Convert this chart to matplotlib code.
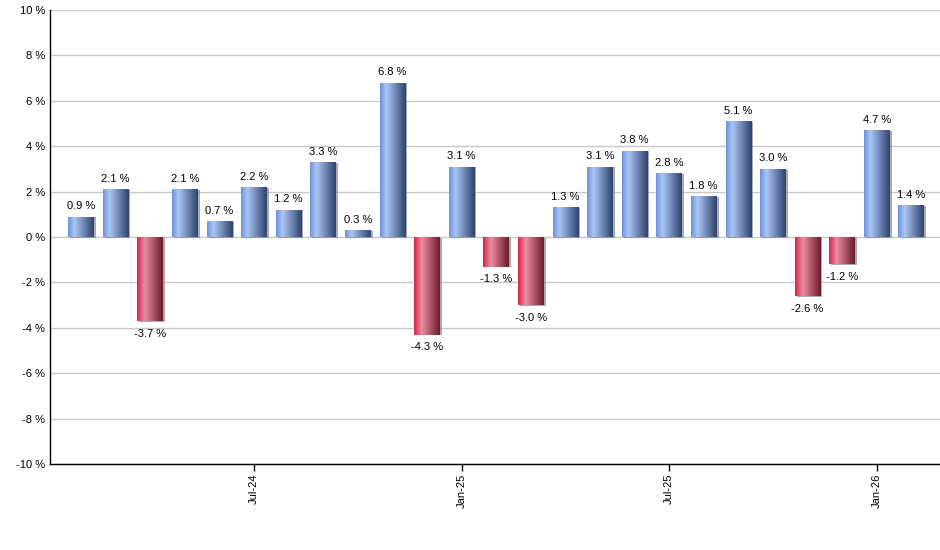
import matplotlib
matplotlib.use("Agg")
import matplotlib.pyplot as plt
import numpy as np
from matplotlib.colors import LinearSegmentedColormap
import matplotlib.patheffects as pe

months = ["Feb-24", "Mar-24", "Apr-24", "May-24", "Jun-24", "Jul-24", "Aug-24", "Sep-24",
          "Oct-24", "Nov-24", "Dec-24", "Jan-25", "Feb-25", "Mar-25", "Apr-25", "May-25",
          "Jun-25", "Jul-25", "Aug-25", "Sep-25", "Oct-25", "Nov-25", "Dec-25", "Jan-26",
          "Feb-26"]
values = [0.9, 2.1, -3.7, 2.1, 0.7, 2.2, 1.2, 3.3, 0.3, 6.8, -4.3, 3.1, -1.3, -3.0,
          1.3, 3.1, 3.8, 2.8, 1.8, 5.1, 3.0, -2.6, -1.2, 4.7, 1.4]
tick_months = ["Jul-24", "Jan-25", "Jul-25", "Jan-26"]
y_ticks = [-10, -8, -6, -4, -2, 0, 2, 4, 6, 8, 10]

plt.rcParams['font.family'] = ['Liberation Sans', 'DejaVu Sans']

fig = plt.figure(figsize=(9.4, 5.5), dpi=100)
ax = fig.add_axes([49.5/940, 1-464/550, 1-49.5/940, (464-10)/550])

blue_cmap = LinearSegmentedColormap.from_list(
    "b", [(0, "#6b92de"), (0.25, "#abc6f6"), (1.0, "#2d426c")])
red_cmap = LinearSegmentedColormap.from_list(
    "r", [(0, "#d6224a"), (0.3, "#ec8ca1"), (1.0, "#6a1a2c")])

x = np.arange(len(values))
bars = ax.bar(x, values, width=0.74, color="none", zorder=3,
              path_effects=[pe.SimplePatchShadow(offset=(1.5, -0.5), shadow_rgbFace="#888888", alpha=0.7),
                            pe.Normal()])
grad = np.linspace(0, 1, 256).reshape(1, -1)
for b, v in zip(bars, values):
    x0, y0 = b.get_x(), b.get_y()
    w, h = b.get_width(), b.get_height()
    cmap = blue_cmap if v >= 0 else red_cmap
    ylo, yhi = min(y0, y0 + h), max(y0, y0 + h)
    im = ax.imshow(grad, cmap=cmap, aspect="auto", extent=(x0, x0 + w, ylo, yhi),
                   zorder=4, interpolation="bilinear")
    im.set_clip_path(b)
    if v >= 0:
        ax.annotate(f"{v:.1f} %", (x0 + w/2, yhi), xytext=(0, 4), textcoords="offset points",
                    ha="center", va="bottom", fontsize=8, zorder=5)
    else:
        ax.annotate(f"{v:.1f} %", (x0 + w/2, ylo), xytext=(0, -5.5), textcoords="offset points",
                    ha="center", va="top", fontsize=8, zorder=5)

ax.set_xlim(-0.91, 24.83)
ax.set_ylim(-10, 10)
ax.set_yticks(y_ticks)
ax.set_yticklabels([f"{t} %" for t in y_ticks], fontsize=8)
ax.yaxis.grid(True, color="#c8c8c8", linewidth=1, zorder=0)
ax.set_axisbelow(True)
ax.tick_params(axis="y", length=0, pad=3)
tick_pos = [months.index(m) for m in tick_months]
ax.set_xticks(tick_pos)
ax.set_xticklabels(tick_months, rotation=90, fontsize=8)
ax.tick_params(axis="x", length=5, width=1, pad=2, color="black")
for s in ["top", "right"]:
    ax.spines[s].set_visible(False)
for s in ["left", "bottom"]:
    ax.spines[s].set_color("black")
    ax.spines[s].set_linewidth(1)
    ax.spines[s].set_zorder(6)

fig.savefig("out.png", dpi=100)
